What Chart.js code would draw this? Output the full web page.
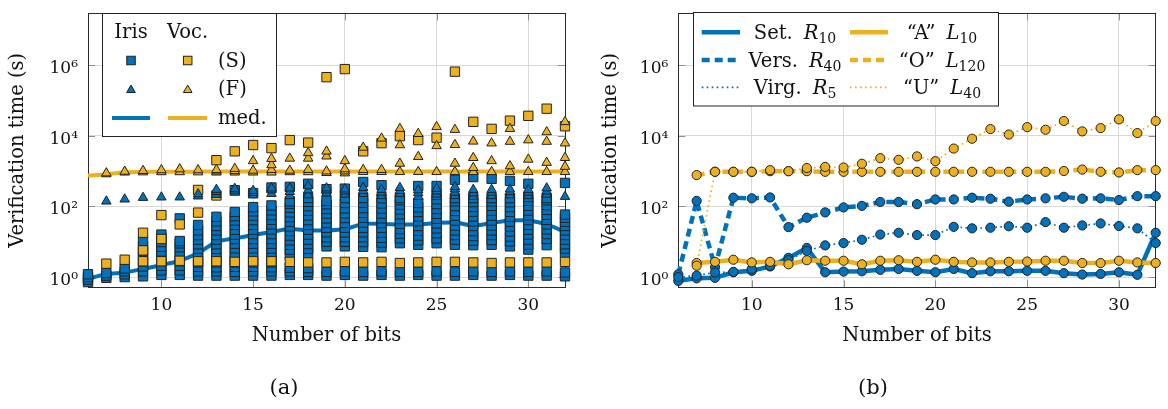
<!DOCTYPE html>
<html><head><meta charset="utf-8">
<script src="https://cdn.jsdelivr.net/npm/chart.js@4.4.1/dist/chart.umd.min.js"></script>
<style>
html,body{margin:0;padding:0;background:#fff;}
#wrap{position:relative;width:1168px;height:409px;overflow:hidden;}
canvas{position:absolute;top:0;}
</style></head><body>
<div id="wrap">
<canvas id="ca" width="584" height="409" style="left:0"></canvas>
<canvas id="cb" width="584" height="409" style="left:584px"></canvas>
</div>
<script>
// ---------- data ----------
const bits = [6,7,8,9,10,11,12,13,14,15,16,17,18,19,20,21,22,23,24,25,26,27,28,29,30,31,32];
const xTicks = [10,15,20,25,30];
const yTicks = [1,100,10000,1000000];

// Panel (a): Iris (S) squares, one list per number of bits
const irisS = [
 [0.72,0.85,1.0,1.2],
 [0.95,1.1,1.3],
 [1.0,1.2,1.45,1.75],
 [1.05,1.45,2.0,2.8,3.9,5.4,7.5,10.5],
 [1.15,1.55,2.1,2.85,3.9,5.3,7.2,9.8,13,16],
 [1.15,1.55,2.1,2.8,3.8,5.2,7.0,9.0,10.5,46],
 [1.1,1.45,1.95,2.6,3.5,4.7,6.3,8.5,11.5,15.5,21,30],
 [1.1,1.45,1.9,2.6,3.5,4.6,6.3,8.5,11.5,15.5,21,28,38,51],
 [1.1,1.4,1.95,2.6,3.5,4.8,6.5,8.8,12,16,22,30,40,53,70,290],
 [1.1,1.45,1.95,2.6,3.6,4.8,6.5,8.8,12,16.5,22,30,41,55,73,96,240],
 [1.1,1.45,1.9,2.6,3.5,4.8,6.4,8.8,12,16.5,22.5,31,42,57,78,107,345],
 [1.15,1.45,1.85,4.4,6.0,8.2,11,15,20,27,37,50,68,92,120,140,360],
 [1.15,1.4,1.8,4.6,6.3,8.6,11.5,16,22,30,41,56,76,102,135,175,440],
 [1.1,1.4,7.4,10,13.5,18.5,25,34,46,63,85,115,145,310],
 [1.15,1.45,7.4,10,13.5,18.5,25,34,47,64,88,125,173,320],
 [1.1,1.4,7.2,9.8,13.5,18.5,25,35,48,66,90,128,173,495],
 [1.15,1.45,7.0,9.5,13,18,25,34,46,63,87,122,170,400],
 [1.1,1.4,9.1,12.5,17,23,32,44,60,82,112,150,173],
 [1.15,1.4,8.2,11,15,20.5,28,38,52,70,95,126,380],
 [1.1,1.45,9.1,12.5,17.5,24,33,45,62,85,117,160,213,380],
 [1.1,1.4,8.2,11.5,15.5,21,29,40,55,75,103,140,173,570],
 [1.15,1.45,8.0,10.8,14.5,20,28,38,52,71,97,133,173,680],
 [1.1,1.4,8.2,11.2,15.5,21,29,40,55,76,104,140,173,610],
 [1.15,1.45,7.4,10.2,14,19.5,27,37,51,70,96,132,173,530],
 [1.1,1.4,6.0,8.3,11.5,16,22,30,41,56,77,105,145,185,440],
 [1.1,1.45,8.0,12,16.5,22.5,31,42,58,80,110,150,173],
 [1.05,1.35,4.8,6.4,8.5,11.5,15.5,21,28,37,48,59,465]
];
// Vocalic (S) squares
const vocS = [
 [],[2.4],[3.1],[2.8,5.7,18],[2.8,12,57],[2.9,31],[2.8,67,294],[2.8,205,2050],
 [2.7,3650],[2.8,5500],[2.8,4500],[2.7,7600],[2.6,6450],[2.6,460000],[2.7,780000],
 [2.6,3650],[2.7,6200],[2.5,9800],[2.6,7600],[2.7,8900],[2.7,660000],[2.6,25000],
 [2.5,15800],[2.6,27000],[2.6,37000],[2.6,59000],[2.7,18700]
];
// Iris (F) triangles
const irisF = [
 [],[140],[160],[178],[183],[183],[195,225],[215,260,300],[250,285,320],[210,245,280],
 [230,290,330],[200,260,330],[210,290,380],[240,290,330],[220,270,310],[230,280,340],
 [200,250,300],[230,280,340],[190,240,290],[220,270,320],[200,250,310,360],[190,240,300],
 [200,250,300],[210,260,310],[200,250,300],[220,270,330],[190]
];
// Vocalic (F) triangles
const vocF = [
 [],[830,880],[930,980],[940,1030],[950,1080],[950,1150],[940,1080],[930,1000,1100],
 [930,1020,1180],[930,1050,1950],[930,1100,1500,2250],[950,1050,2300],[950,1100,2300,3300],
 [900,1000,2650,3650],[880,1000,1150,1950],[960,1100,4700],[960,1100,8500],
 [960,1650,5500,16000],[960,2570,11500],[960,5200,18000],[960,1650,5600,15000],
 [960,1250,2400,7000],[960,1950,6200],[960,1400,6900,16000],[960,2150,7600],
 [960,1750,6900,12900],[960,1350,2400,6200,25000]
];
const irisMed = [0.9,1.2,1.35,1.7,2.2,2.9,4.8,10,12.5,15.5,19,23,21,21,23,32,32,31,31,34,35,29,34,40,40,31,19];
const vocMed  = [750,820,930,955,965,970,970,975,975,975,975,975,975,975,975,980,980,980,980,980,980,980,980,980,980,980,980];

// Panel (b)
const setR10  = [0.78,0.92,0.95,1.37,1.5,2.0,3.5,6.7,1.37,1.43,1.46,1.6,1.7,1.5,1.37,1.7,1.29,1.46,1.46,1.5,1.5,1.29,1.18,1.23,1.37,1.16,18];
const versR40 = [1.2,144,1.9,177,170,180,26,48,68,94,104,134,134,116,158,158,177,166,137,158,170,188,166,170,152,196,196];
const virgR5  = [1.0,1.1,1.35,1.4,1.7,2.1,3.0,5.5,7.9,9.2,11.4,16,18,15.5,15.5,26.5,24,25,27.5,25,36,25,29,33,28,24,9.2];
const aL10    = [null,2.5,2.7,3.1,2.6,2.7,2.3,3.0,2.9,2.9,2.3,2.9,3.0,2.7,3.1,2.7,2.6,2.6,2.7,2.75,2.9,2.9,2.5,2.5,2.9,2.6,2.5];
const oL120   = [null,776,960,960,960,1000,1000,1000,960,960,960,960,960,960,960,960,960,960,960,960,960,1010,1110,960,920,1070,1070];
const uL40    = [null,2.1,960,960,960,1070,1000,1230,1320,1270,1620,2330,2100,2620,1920,4370,8300,15600,10900,17700,14900,26400,13400,16600,29400,12000,26400];

// ---------- styling ----------
const BLUE = '#0072BD', ORANGE = '#EDB120', EDGE = '#222';
const FAM = '"DejaVu Serif", "Liberation Serif", serif';
const yMin = 0.513, yMax = 2.95e7;
const SUP = {0:'\u2070',1:'\u00B9',2:'\u00B2',3:'\u00B3',4:'\u2074',5:'\u2075',6:'\u2076',7:'\u2077'};
Chart.defaults.font.family = FAM;
Chart.defaults.color = '#111';

const cols = arr => { const o = []; arr.forEach((c,i) => c.forEach(v => o.push({x:bits[i], y:v}))); return o; };
const ser = arr => arr.map((v,i) => ({x:bits[i], y:v}));

function scales(yWidth){
  const grid = { color:'#d9d9d9', lineWidth:1, drawTicks:false };
  return {
    x: {
      type:'linear', min:6, max:32,
      afterBuildTicks: s => { s.ticks = xTicks.map(v => ({value:v})); },
      afterFit: s => { s.height = 60; },
      grid, border:{display:false},
      ticks:{ padding:8, font:{size:17}, maxRotation:0, autoSkip:false, color:'#111' },
      title:{ display:true, text:'Number of bits', font:{size:19.5}, padding:{top:0,bottom:0}, color:'#111' }
    },
    y: {
      type:'logarithmic', min:yMin, max:yMax,
      afterBuildTicks: s => { s.ticks = yTicks.map(v => ({value:v})); },
      afterFit: s => { s.width = yWidth; },
      grid, border:{display:false},
      ticks:{ padding:10, labelOffset:3.5, font:{size:17, lineHeight:0.4}, autoSkip:false, color:'#111',
              callback: v => '10' + SUP[Math.round(Math.log10(v))] },
      title:{ display:true, text:'Verification time (s)', font:{size:19.5}, padding:{top:6.3,bottom:0}, color:'#111' }
    }
  };
}

const framePlugin = {
  id:'frame',
  beforeDatasetsDraw(chart){
    const c = chart.ctx, a = chart.chartArea, xs = chart.scales.x, ys = chart.scales.y;
    c.save();
    c.strokeStyle = '#8e8e8e'; c.lineWidth = 1;
    c.beginPath();
    xTicks.forEach(v => { const p = Math.round(xs.getPixelForValue(v)) + 0.5;
      c.moveTo(p, a.bottom); c.lineTo(p, a.bottom - 7); c.moveTo(p, a.top); c.lineTo(p, a.top + 7); });
    yTicks.forEach(v => { const p = Math.round(ys.getPixelForValue(v)) + 0.5;
      c.moveTo(a.left, p); c.lineTo(a.left + 7, p); c.moveTo(a.right, p); c.lineTo(a.right - 7, p); });
    c.stroke();
    c.strokeStyle = '#2a2a2a'; c.lineWidth = 1;
    c.strokeRect(Math.round(a.left) + 0.5, Math.round(a.top) + 0.5, Math.round(a.right - a.left), Math.round(a.bottom - a.top));
    c.restore();
  }
};

function sq(c,x,y,s,fill){ c.fillStyle = fill; c.fillRect(x-s/2,y-s/2,s,s); c.strokeStyle = EDGE; c.lineWidth = 1; c.strokeRect(x-s/2,y-s/2,s,s); }
function tri(c,x,y,r,fill){ c.beginPath(); for (let k=0;k<3;k++){ const t = k*2*Math.PI/3; c.lineTo(x+Math.sin(t)*r, y-Math.cos(t)*r); }
  c.closePath(); c.fillStyle = fill; c.fill(); c.strokeStyle = EDGE; c.lineWidth = 1; c.stroke(); }
function seg(c,x1,x2,y,color,w,dash){ c.save(); c.beginPath(); c.setLineDash(dash || []); c.strokeStyle = color; c.lineWidth = w;
  c.moveTo(x1,y); c.lineTo(x2,y); c.stroke(); c.restore(); }
function caption(c, text, x){ c.save(); c.font = '21px ' + FAM; c.fillStyle = '#111'; c.textAlign = 'center'; c.textBaseline = 'alphabetic'; c.fillText(text, x, 394); c.restore(); }

const legendA = {
  id:'legendA',
  afterDraw(chart){
    const c = chart.ctx;
    c.save();
    c.fillStyle = '#fff'; c.fillRect(102.5,13.5,174,123);
    c.strokeStyle = '#222'; c.lineWidth = 1; c.strokeRect(102.5,13.5,174,123);
    c.fillStyle = '#111'; c.font = '19.5px ' + FAM; c.textBaseline = 'alphabetic';
    c.textAlign = 'center'; c.fillText('Iris',131,37.5); c.fillText('Voc.',187.5,37.5);
    c.textAlign = 'left'; c.fillText('(S)',218,66.5); c.fillText('(F)',218,95); c.fillText('med.',218,124);
    sq(c,131,60.5,8.5,BLUE); sq(c,187.7,60.5,8.5,ORANGE);
    tri(c,131,90,5,BLUE); tri(c,187.7,90,5,ORANGE);
    seg(c,112,150,118,BLUE,4); seg(c,168,207,118,ORANGE,4);
    c.restore();
    caption(c,'(a)',284);
  }
};

function rich(c, cx, y, parts){
  const F = '19.5px ' + FAM, I = 'italic 19.5px ' + FAM, S = '14px ' + FAM;
  const items = [{t:parts[0],f:F,dy:0},{gap:11},{t:parts[1],f:I,dy:0},{t:parts[2],f:S,dy:4}];
  let w = 0; items.forEach(p => { if (p.gap) w += p.gap; else { c.font = p.f; w += c.measureText(p.t).width; } });
  let x = cx - w/2;
  items.forEach(p => { if (p.gap) { x += p.gap; return; } c.font = p.f; c.fillText(p.t, x, y + p.dy); x += c.measureText(p.t).width; });
}

const legendB = {
  id:'legendB',
  afterDraw(chart){
    const c = chart.ctx;
    c.save();
    c.fillStyle = '#fff'; c.fillRect(109.5,12.5,305,93.5);
    c.strokeStyle = '#222'; c.lineWidth = 1; c.strokeRect(109.5,12.5,305,93.5);
    const rows = [32.3, 60, 87.3], base = [39.3, 66.7, 94.3];
    const dashes = [[], [8,5], [1.7,3.3]], widths = [4.5, 4.5, 1.7];
    const left = [['Set.','R','10'],['Vers.','R','40'],['Virg.','R','5']];
    const right = [['\u201CA\u201D','L','10'],['\u201CO\u201D','L','120'],['\u201CU\u201D','L','40']];
    c.fillStyle = '#111'; c.textBaseline = 'alphabetic'; c.textAlign = 'left';
    for (let i = 0; i < 3; i++){
      seg(c,117.7,156,rows[i],BLUE,widths[i],dashes[i]);
      seg(c,266,304,rows[i],ORANGE,widths[i],dashes[i]);
      c.fillStyle = '#111';
      rich(c, 211, base[i], left[i]);
      rich(c, 358, base[i], right[i]);
    }
    c.restore();
    caption(c,'(b)',289);
  }
};

// ---------- panel (a) ----------
new Chart(document.getElementById('ca'), {
  type:'scatter',
  data:{ datasets:[
    { label:'med. Iris', data:ser(irisMed), showLine:true, tension:0.3, borderColor:BLUE, borderWidth:4, pointRadius:0, order:10, clip:false },
    { label:'med. Voc.', data:ser(vocMed), showLine:true, tension:0.3, borderColor:ORANGE, borderWidth:4, pointRadius:0, order:9, clip:false },
    { label:'Iris (S)', data:cols(irisS), pointStyle:'rect', pointRadius:6.6, backgroundColor:BLUE, borderColor:EDGE, borderWidth:1, order:8, clip:false },
    { label:'Voc. (S)', data:cols(vocS), pointStyle:'rect', pointRadius:6.6, backgroundColor:ORANGE, borderColor:EDGE, borderWidth:1, order:7, clip:false },
    { label:'Iris (F)', data:cols(irisF), pointStyle:'triangle', pointRadius:5.5, backgroundColor:BLUE, borderColor:EDGE, borderWidth:1, order:6, clip:false },
    { label:'Voc. (F)', data:cols(vocF), pointStyle:'triangle', pointRadius:5.5, backgroundColor:ORANGE, borderColor:EDGE, borderWidth:1, order:5, clip:false }
  ]},
  options:{
    responsive:false, animation:false, events:[], devicePixelRatio:1,
    layout:{ padding:{ left:0, right:19, top:4, bottom:61.7 } },
    plugins:{ legend:{display:false}, tooltip:{enabled:false} },
    scales: scales(88)
  },
  plugins:[framePlugin, legendA]
});

// ---------- panel (b) ----------
function lineDs(label, arr, color, width, dash, order){
  return { label, data:ser(arr), showLine:true, borderColor:color, borderWidth:width, borderDash:dash,
           pointRadius:4.6, pointBackgroundColor:color, pointBorderColor:EDGE, pointBorderWidth:1,
           backgroundColor:color, order, clip:false, spanGaps:false };
}
new Chart(document.getElementById('cb'), {
  type:'scatter',
  data:{ datasets:[
    lineDs('Set. R10', setR10, BLUE, 4.5, [], 6),
    lineDs('Vers. R40', versR40, BLUE, 4.5, [8,5], 5),
    lineDs('Virg. R5', virgR5, BLUE, 1.7, [1.7,3.3], 4),
    lineDs('A L10', aL10, ORANGE, 4.5, [], 3),
    lineDs('O L120', oL120, ORANGE, 4.5, [8,5], 2),
    lineDs('U L40', uL40, ORANGE, 1.7, [1.7,3.3], 1)
  ]},
  options:{
    responsive:false, animation:false, events:[], devicePixelRatio:1,
    layout:{ padding:{ left:9, right:12.3, top:4, bottom:61.7 } },
    plugins:{ legend:{display:false}, tooltip:{enabled:false} },
    scales: scales(85.3)
  },
  plugins:[framePlugin, legendB]
});
</script>
</body></html>
